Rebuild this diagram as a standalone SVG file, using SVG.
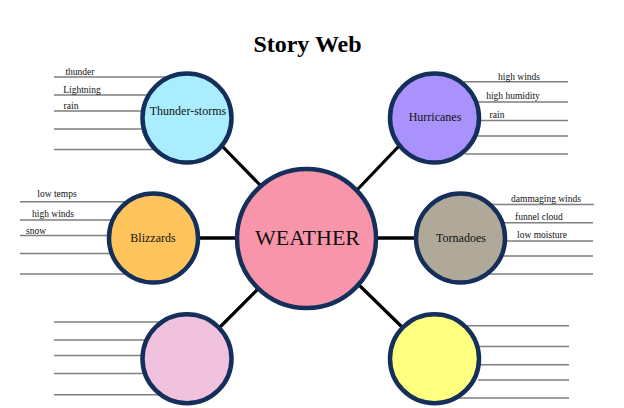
<svg xmlns="http://www.w3.org/2000/svg" width="624" height="408" viewBox="0 0 624 408">
<style>
text{font-family:"Liberation Serif","Times New Roman",serif;fill:#111;text-anchor:middle}
.l{font-size:9.5px}
.n{font-size:12px}
.w{stroke:#7f7f7f;stroke-width:1.4;fill:none}
.c{stroke:#000;fill:none}
circle{stroke:#14305a;stroke-width:4.5}
</style>
<rect width="624" height="408" fill="#fff"/>
<text x="307.500" y="52" font-size="24" font-weight="bold" style="fill:#000">Story Web</text>
<g id="connectors">
<line class="c" stroke-width="3.2" x1="222" y1="146" x2="262" y2="187"/>
<line class="c" stroke-width="3.2" x1="399" y1="146" x2="357" y2="190"/>
<line class="c" stroke-width="3.6" x1="198" y1="238" x2="237" y2="238"/>
<line class="c" stroke-width="3.6" x1="376" y1="238" x2="416" y2="238"/>
<line class="c" stroke-width="3.2" x1="220" y1="327" x2="259" y2="288"/>
<line class="c" stroke-width="3.2" x1="402" y1="327" x2="359" y2="285"/>
</g>
<g id="thunderstorms">
<path class="w" d="M54 77H165M54 95H150M54 111H146M54 129H146M54 149.500H155"/>
<circle cx="187" cy="118" r="44.500" fill="#a9edff"/>
<text class="n" x="188" y="115">Thunder-storms</text>
<text class="l" x="80" y="75">thunder</text>
<text class="l" x="82" y="93">Lightning</text>
<text class="l" x="71" y="109">rain</text>
</g>
<g id="hurricanes">
<path class="w" d="M464 81.700H568M475 102H568M478 120.500H568M478 136H568M465 154H568"/>
<circle cx="434.500" cy="118" r="44.500" fill="#a992fb"/>
<text class="n" x="435" y="121">Hurricanes</text>
<text class="l" x="519" y="80">high winds</text>
<text class="l" x="513" y="99">high humidity</text>
<text class="l" x="497" y="118">rain</text>
</g>
<g id="blizzards">
<path class="w" d="M20 201.700H130M20 220H115M20 235.500H112M20 253.500H112M20 274H130"/>
<circle cx="153.500" cy="238" r="44.500" fill="#ffc45c"/>
<text class="n" x="153" y="242">Blizzards</text>
<text class="l" x="57" y="197">low temps</text>
<text class="l" x="53" y="217">high winds</text>
<text class="l" x="36" y="234">snow</text>
</g>
<g id="tornadoes">
<path class="w" d="M488 204.500H594M498 222.700H593M500 241H593M498 256H593M485 274H593"/>
<circle cx="460.500" cy="238" r="44.500" fill="#b0a898"/>
<text class="n" x="461" y="242">Tornadoes</text>
<text class="l" x="546" y="202">dammaging winds</text>
<text class="l" x="539" y="220">funnel cloud</text>
<text class="l" x="542" y="238">low moisture</text>
</g>
<g id="pink">
<path class="w" d="M54 322H165M54 340H150M54 355.500H146M54 373.500H146M54 394.700H165"/>
<circle cx="187" cy="358.700" r="44.500" fill="#f0c2de"/>
</g>
<g id="yellow">
<path class="w" d="M465 325.700H569M475 346.500H569M478 364.700H569M478 380H569M455 398H569"/>
<circle cx="434.500" cy="358.700" r="44.500" fill="#ffff80"/>
</g>
<g id="weather">
<circle cx="306.500" cy="238.500" r="69.500" fill="#f995aa"/>
<text x="307.500" y="245" font-size="22">WEATHER</text>
</g>
</svg>
